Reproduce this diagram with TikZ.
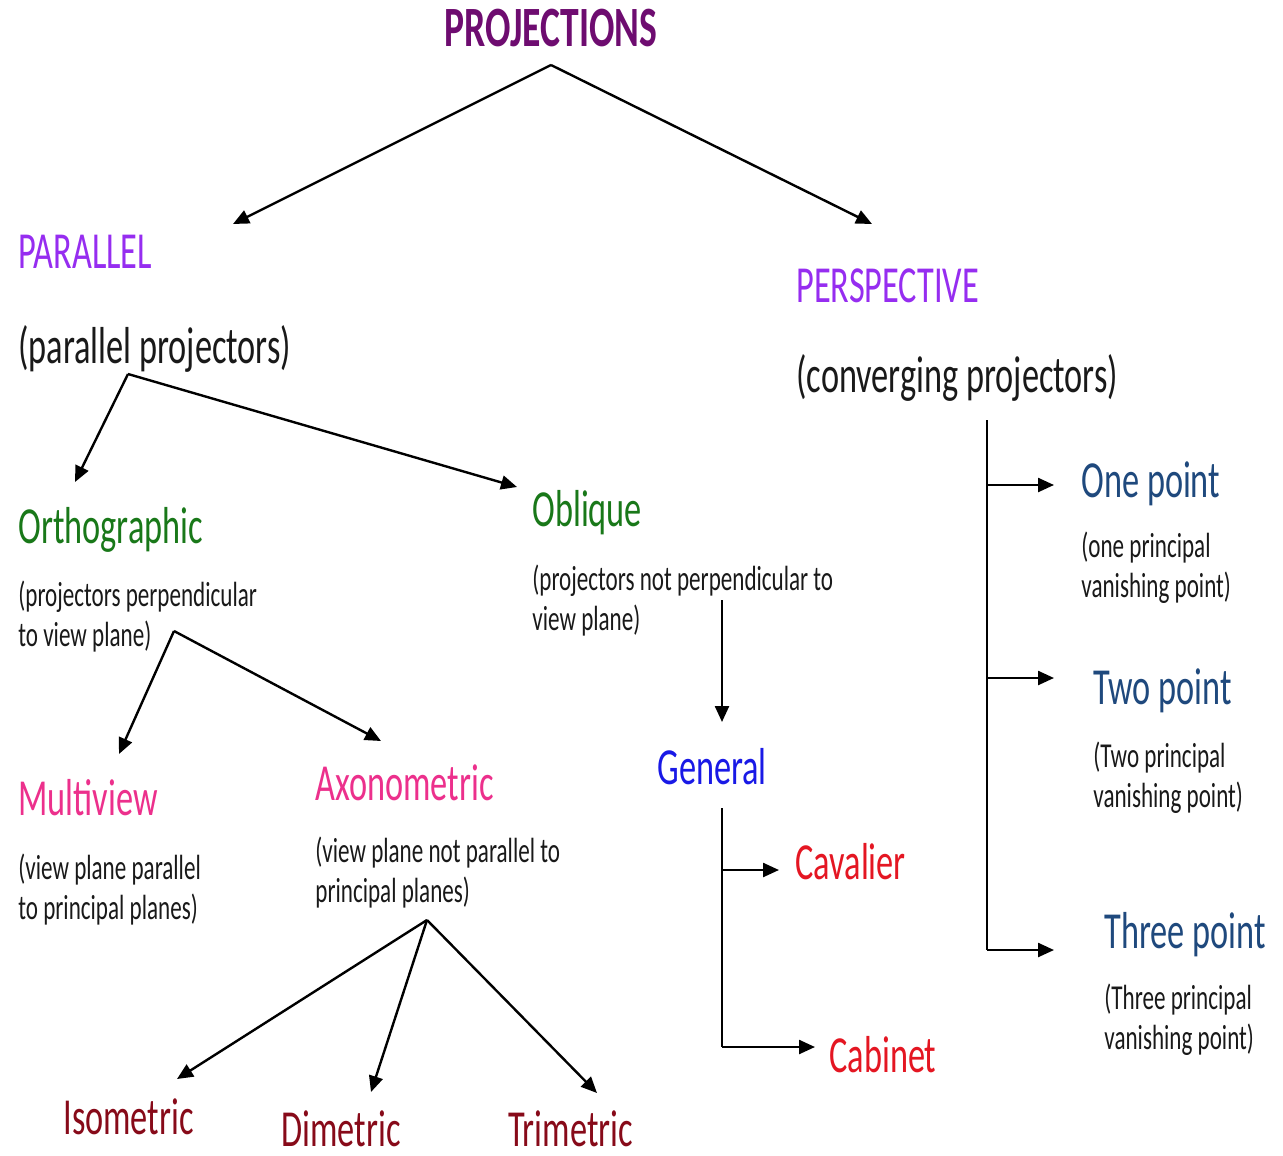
\documentclass[tikz,border=0pt]{standalone}
\usepackage{fontspec}
\setmainfont{Carlito}[FakeStretch=0.66]
\usetikzlibrary{arrows.meta}

\definecolor{projcol}{RGB}{110,12,112}
\definecolor{kindcol}{RGB}{150,45,240}
\definecolor{ortcol}{RGB}{25,120,25}
\definecolor{pinkcol}{RGB}{236,48,140}
\definecolor{gencol}{RGB}{25,25,230}
\definecolor{redcol}{RGB}{228,22,34}
\definecolor{ptcol}{RGB}{31,73,125}
\definecolor{metcol}{RGB}{135,10,25}
\definecolor{txtcol}{RGB}{25,25,25}

\begin{document}
\begin{tikzpicture}[x=0.5pt,y=-0.5pt,
    arr/.style={-{Triangle[length=8pt,width=7pt]},line width=1.2pt},
    line/.style={line width=1.2pt},
    big/.style={anchor=base west,inner sep=0pt,font=\fontsize{26}{30}\selectfont},
    small/.style={anchor=base west,inner sep=0pt,align=left,text=txtcol,
        font=\fontsize{17.5}{20}\selectfont}]
    \useasboundingbox (0,0) rectangle (1283,1155);

    % Top
    \node[anchor=base,inner sep=0pt,text=projcol,font=\fontsize{28.5}{32}\selectfont\bfseries] (proj) at (551,47) {PROJECTIONS};

    % Parallel branch (small notes are placed by their last line)
    \node[big,text=kindcol] (par) at (18,268) {PARALLEL};
    \node[big,text=txtcol] (parsub) at (18,363) {(parallel projectors)};

    \node[big,text=ortcol] (ortho) at (18,543) {Orthographic};
    \node[small] (orthosub) at (18,646) {(projectors perpendicular\\to view plane)};

    \node[big,text=ortcol] (obl) at (532,526) {Oblique};
    \node[small] (oblsub) at (532,630) {(projectors not perpendicular to\\view plane)};

    \node[big,text=pinkcol] (multi) at (18,815) {Multiview};
    \node[small] (multisub) at (18,919) {(view plane parallel\\to principal planes)};

    \node[big,text=pinkcol] (axo) at (315,800) {Axonometric};
    \node[small] (axosub) at (315,902) {(view plane not parallel to\\principal planes)};

    \node[big,text=metcol] (iso) at (63,1134) {Isometric};
    \node[big,text=metcol] (dim) at (281,1146) {Dimetric};
    \node[big,text=metcol] (tri) at (508,1146) {Trimetric};

    \node[big,text=gencol] (gen) at (657,784) {General};
    \node[big,text=redcol] (cav) at (795,879) {Cavalier};
    \node[big,text=redcol] (cab) at (829,1072) {Cabinet};

    % Perspective branch
    \node[big,text=kindcol] (persp) at (796,302) {PERSPECTIVE};
    \node[big,text=txtcol] (perspsub) at (796,392) {(converging projectors)};

    \node[big,text=ptcol] (one) at (1081,497) {One point};
    \node[small] (onesub) at (1081,597) {(one principal\\vanishing point)};
    \node[big,text=ptcol] (two) at (1093,704) {Two point};
    \node[small] (twosub) at (1093,807) {(Two principal\\vanishing point)};
    \node[big,text=ptcol] (three) at (1104,948) {Three point};
    \node[small] (threesub) at (1104,1049) {(Three principal\\vanishing point)};

    % Fork points and arrow ends
    \coordinate (projfork) at (551,65);
    \coordinate (parin) at (233,224);
    \coordinate (perspin) at (872,224);
    \coordinate (parfork) at (128,374);
    \coordinate (orthoin) at (75,482);
    \coordinate (oblin) at (517,487);
    \coordinate (orthofork) at (174,631);
    \coordinate (multiin) at (119,754);
    \coordinate (axoin) at (381,741);
    \coordinate (axofork) at (427,920);
    \coordinate (isoin) at (177,1079);
    \coordinate (dimin) at (371,1092);
    \coordinate (triin) at (597,1093);
    \coordinate (obltop) at (722,600);
    \coordinate (genin) at (722,722);
    \coordinate (gentop) at (722,808);
    \coordinate (genmid) at (722,870);
    \coordinate (genbot) at (722,1047);
    \coordinate (cavin) at (779,870);
    \coordinate (cabin) at (815,1047);
    \coordinate (persptop) at (987,420);
    \coordinate (perspa) at (987,485);
    \coordinate (perspb) at (987,678);
    \coordinate (perspc) at (987,950);
    \coordinate (onein) at (1054,485);
    \coordinate (twoin) at (1054,678);
    \coordinate (threein) at (1054,950);

    % Connectors
    \draw[arr] (projfork) -- (parin);
    \draw[arr] (projfork) -- (perspin);
    \draw[arr] (parfork) -- (orthoin);
    \draw[arr] (parfork) -- (oblin);
    \draw[arr] (orthofork) -- (multiin);
    \draw[arr] (orthofork) -- (axoin);
    \draw[arr] (axofork) -- (isoin);
    \draw[arr] (axofork) -- (dimin);
    \draw[arr] (axofork) -- (triin);
    \draw[arr] (obltop) -- (genin);
    \draw[line] (gentop) -- (genbot);
    \draw[arr] (genmid) -- (cavin);
    \draw[arr] (genbot) -- (cabin);
    \draw[line] (persptop) -- (perspc);
    \draw[arr] (perspa) -- (onein);
    \draw[arr] (perspb) -- (twoin);
    \draw[arr] (perspc) -- (threein);
\end{tikzpicture}
\end{document}
